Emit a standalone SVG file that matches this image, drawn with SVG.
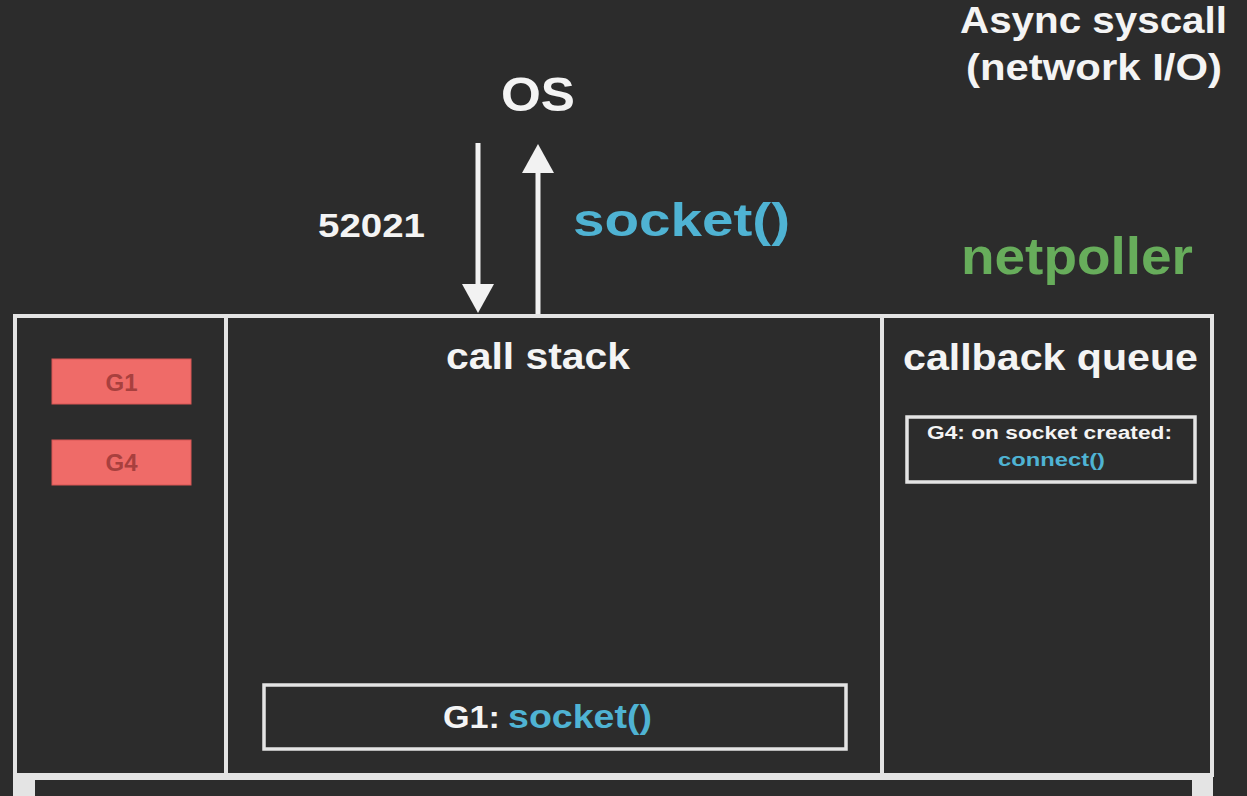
<svg xmlns="http://www.w3.org/2000/svg" width="1247" height="796" viewBox="0 0 1247 796">
<defs>
<marker id="head" viewBox="0 0 29 32" refX="0" refY="16" markerWidth="29" markerHeight="32" markerUnits="userSpaceOnUse" orient="auto">
<path d="M0,0 L29,16 L0,32 z" fill="#f2f2f2"/>
</marker>
<style>
text{font-family:"Liberation Sans",Arial,sans-serif;font-weight:700}
.w{fill:#f4f4f4}
.b{fill:#4fb3d3}
.g{fill:#67ad5b}
.frame{fill:none;stroke:#e4e4e4;stroke-width:4}
.thin{fill:none;stroke:#e4e4e4;stroke-width:3.5}
.red{fill:#ef6b68;stroke:#d85654;stroke-width:1}
.rt{fill:#a8403e;font-size:24px}
.arrow{stroke:#f2f2f2;stroke-width:5;fill:none;marker-end:url(#head)}
</style>
</defs>
<rect width="1247" height="796" fill="#2c2c2c"/>

<g id="title">
<text class="w" x="960" y="33" font-size="37" textLength="267" lengthAdjust="spacingAndGlyphs">Async syscall</text>
<text class="w" x="966" y="80" font-size="37" textLength="256" lengthAdjust="spacingAndGlyphs">(network I/O)</text>
</g>
<g id="os">
<text class="w" x="501" y="111" font-size="49" textLength="74" lengthAdjust="spacingAndGlyphs">OS</text>
</g>
<g id="netpoller">
<text class="g" x="961" y="274" font-size="52" textLength="232" lengthAdjust="spacingAndGlyphs">netpoller</text>
</g>

<g id="connectors">
<path class="arrow" d="M478,143 L478,284"/>
<path class="arrow" d="M538,314 L538,173"/>
<text class="w" x="318" y="237" font-size="34" textLength="107" lengthAdjust="spacingAndGlyphs">52021</text>
<text class="b" x="573" y="236" font-size="47" textLength="217" lengthAdjust="spacingAndGlyphs">socket()</text>
</g>

<g id="frame">
<rect class="frame" x="15" y="316" width="1197" height="459"/>
<line class="frame" x1="226" y1="316" x2="226" y2="775"/>
<line class="frame" x1="882" y1="316" x2="882" y2="775"/>
</g>

<g id="runqueue">
<g id="g1">
<rect class="red" x="52" y="359" width="139" height="45"/>
<text class="rt" x="121.5" y="391" text-anchor="middle">G1</text>
</g>
<g id="g4">
<rect class="red" x="52" y="440" width="139" height="45"/>
<text class="rt" x="121.5" y="471" text-anchor="middle">G4</text>
</g>
</g>

<g id="callstack">
<text class="w" x="446" y="369" font-size="37" textLength="184" lengthAdjust="spacingAndGlyphs">call stack</text>
<g id="frame-g1">
<rect class="thin" x="264" y="685" width="582" height="64"/>
<text class="w" x="443" y="728" font-size="32" textLength="57" lengthAdjust="spacingAndGlyphs">G1:</text>
<text class="b" x="508" y="728" font-size="33" textLength="144" lengthAdjust="spacingAndGlyphs">socket()</text>
</g>
</g>

<g id="callbackqueue">
<text class="w" x="903" y="370" font-size="37" textLength="295" lengthAdjust="spacingAndGlyphs">callback queue</text>
<g id="cb-g4">
<rect class="thin" x="907" y="417" width="288" height="65"/>
<text class="w" x="927" y="439" font-size="18" textLength="245" lengthAdjust="spacingAndGlyphs">G4: on socket created:</text>
<text class="b" x="998" y="466" font-size="19" textLength="107" lengthAdjust="spacingAndGlyphs" fill="#49a9c6">connect()</text>
</g>
</g>

<g id="bottom">
<rect x="13" y="777" width="1200" height="30" fill="#e4e4e4"/>
<rect x="35" y="780" width="1157" height="30" fill="#2c2c2c"/>
</g>
</svg>
